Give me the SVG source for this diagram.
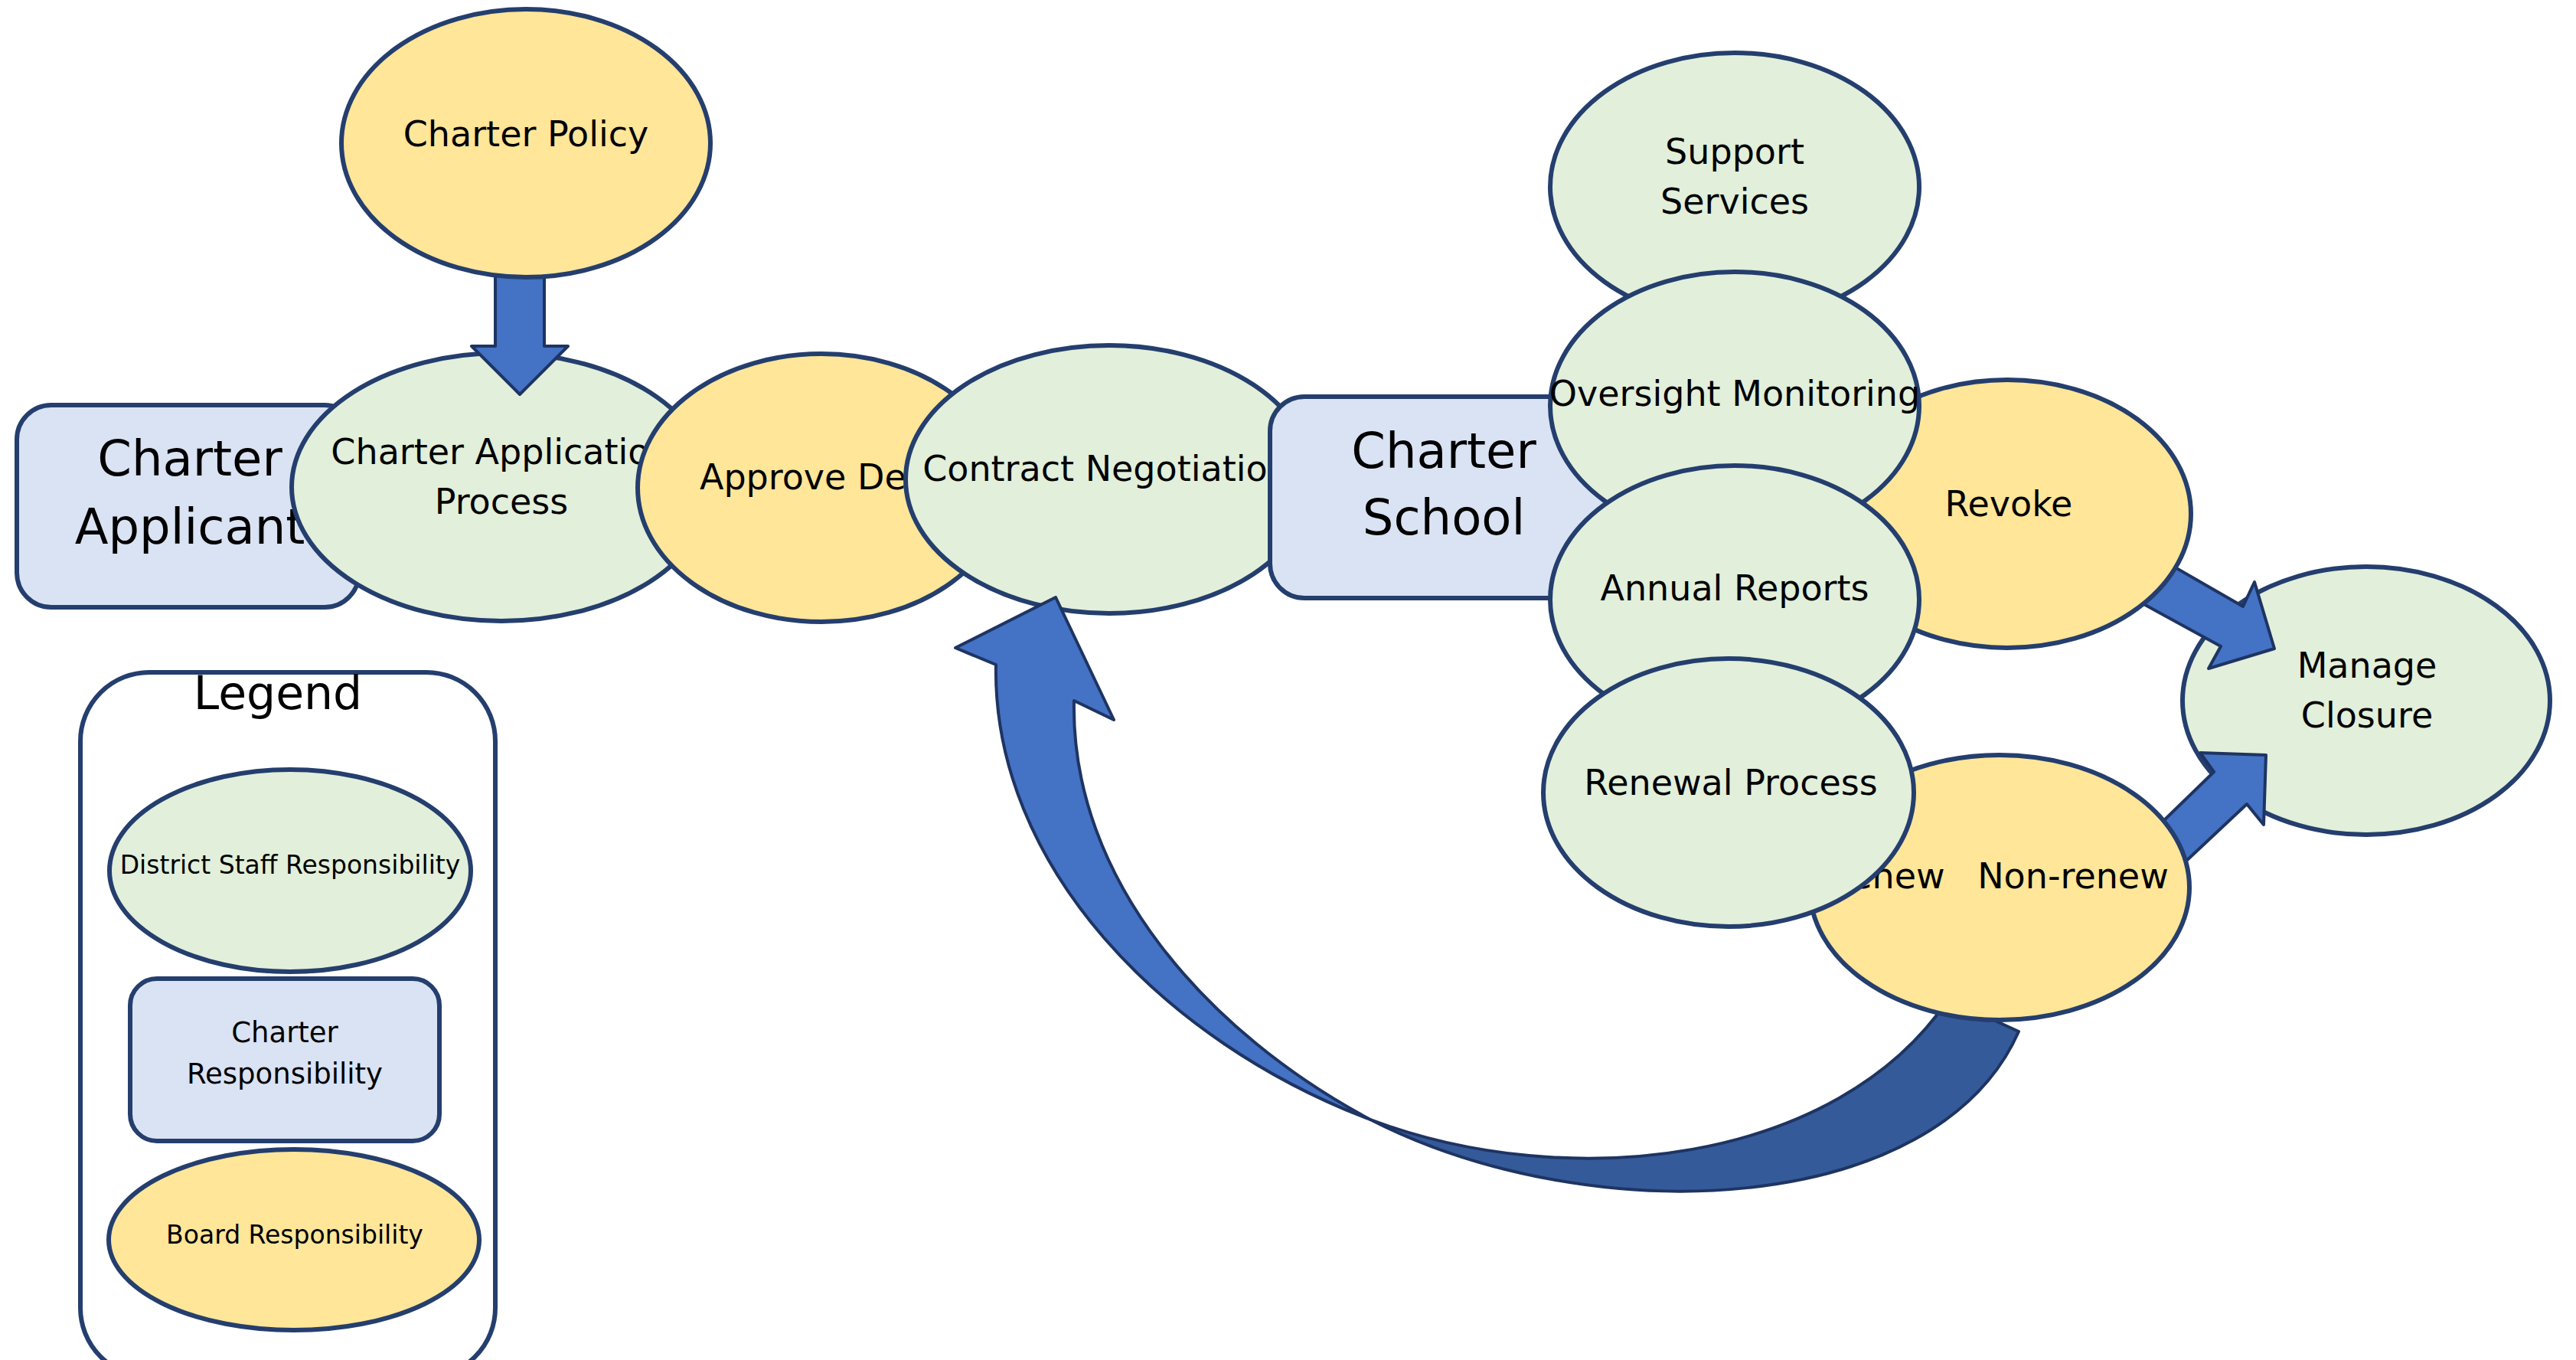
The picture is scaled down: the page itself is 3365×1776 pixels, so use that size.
<svg xmlns="http://www.w3.org/2000/svg" width="3365" height="1776" viewBox="0 0 3365 1776">
<style>
.g{fill:#E2EFDA;stroke:#243E6E;stroke-width:6}
.y{fill:#FFE699;stroke:#243E6E;stroke-width:6}
.b{fill:#DAE3F3;stroke:#243E6E;stroke-width:6}
.w{fill:#FFFFFF;stroke:#243E6E;stroke-width:6}
.arr{fill:#4472C4;stroke:#1E3462;stroke-width:4;stroke-linejoin:round}
.dark{fill:#355A9A;stroke:#1E3462;stroke-width:4;stroke-linejoin:round}
text{font-family:"DejaVu Sans","Liberation Sans",sans-serif;fill:#000;text-anchor:middle}
.t46{font-size:46px}
.t64{font-size:64px}
.t33{font-size:33px}
.t37{font-size:37px}
</style>
<rect width="3365" height="1776" fill="#FFFFFF"/>
<g id="legend">
<rect class="w" x="105" y="878" width="542" height="920" rx="90"/>
<ellipse class="g" cx="379" cy="1137" rx="236" ry="132"/>
<text class="t33" x="379" y="1141">District Staff Responsibility</text>
<rect class="b" x="170" y="1278" width="404" height="212" rx="35"/>
<text class="t37" x="372" y="1361">Charter</text>
<text class="t37" x="372" y="1415">Responsibility</text>
<ellipse class="y" cx="384" cy="1619" rx="242" ry="118"/>
<text class="t33" x="385" y="1624">Board Responsibility</text>
<text style="font-size:60px" x="363" y="926">Legend</text>
</g>
<g id="charter-applicant">
<rect class="b" x="22" y="529" width="447" height="264" rx="45"/>
<text class="t64" x="248" y="621">Charter</text>
<text class="t64" x="248" y="710">Applicant</text>
</g>
<g id="charter-application-process">
<ellipse class="g" cx="655" cy="636" rx="274" ry="175"/>
<text class="t46" x="655" y="606">Charter Application</text>
<text class="t46" x="655" y="671">Process</text>
</g>
<g id="approve-deny">
<ellipse class="y" cx="1073" cy="637" rx="240" ry="175"/>
<text class="t46" x="1077" y="639">Approve Deny</text>
</g>
<g id="contract-negotiation">
<ellipse class="g" cx="1449" cy="626" rx="266" ry="175"/>
<text class="t46" x="1445" y="628">Contract Negotiation</text>
</g>
<g id="charter-school">
<rect class="b" x="1659" y="518" width="450" height="263" rx="45"/>
<text class="t64" x="1886" y="611">Charter</text>
<text class="t64" x="1886" y="698">School</text>
</g>
<g id="manage-closure">
<ellipse class="g" cx="3091" cy="915" rx="240" ry="175"/>
<text class="t46" x="3092" y="885">Manage</text>
<text class="t46" x="3092" y="950">Closure</text>
</g>
<g id="connectors">
<polygon class="arr" points="647,340 711,340 711,452 742,452 679,515 616,452 647,452"/>
<polygon class="arr" points="2791,712 2930,792 2945,760 2971,847 2885,873 2901,844 2751,762"/>
<polygon class="arr" points="2795,1102 2892,1008 2874,983 2960,986 2957,1077 2935,1050 2822,1156"/>
<path class="dark" d="M1790,1462 C2050,1560 2400,1520 2545,1305 L2637,1347 C2530,1590 2080,1610 1790,1462 Z"/>
<path class="arr" d="M1301,868 L1248,846 L1379,780 L1455,940 L1403,915 C1398,1150 1580,1350 1790,1462 C1520,1360 1296,1130 1301,868 Z"/>
</g>
<g id="charter-policy">
<ellipse class="y" cx="687" cy="187" rx="241" ry="175"/>
<text class="t46" x="687" y="191">Charter Policy</text>
</g>
<g id="revoke">
<ellipse class="y" cx="2622" cy="671" rx="240" ry="175"/>
<text class="t46" x="2624" y="674">Revoke</text>
</g>
<g id="renew-non-renew">
<ellipse class="y" cx="2612" cy="1159" rx="248" ry="173"/>
<text class="t46" y="1160"><tspan x="2464">Renew</tspan><tspan x="2708">Non-renew</tspan></text>
</g>
<g id="support-services">
<ellipse class="g" cx="2266" cy="244" rx="241" ry="175"/>
<text class="t46" x="2266" y="214">Support</text>
<text class="t46" x="2266" y="279">Services</text>
</g>
<g id="oversight-monitoring">
<ellipse class="g" cx="2266" cy="530" rx="241" ry="175"/>
<text class="t46" x="2266" y="530">Oversight Monitoring</text>
</g>
<g id="annual-reports">
<ellipse class="g" cx="2266" cy="783" rx="241" ry="175"/>
<text class="t46" x="2266" y="784">Annual Reports</text>
</g>
<g id="renewal-process">
<ellipse class="g" cx="2258" cy="1035" rx="242" ry="175"/>
<text class="t46" x="2261" y="1038">Renewal Process</text>
</g>
</svg>
